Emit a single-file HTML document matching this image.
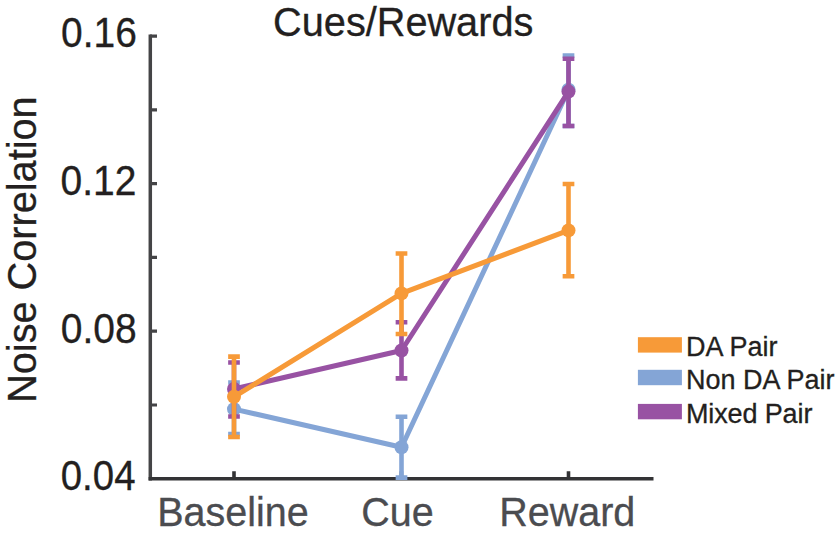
<!DOCTYPE html>
<html>
<head>
<meta charset="utf-8">
<style>
html,body{margin:0;padding:0;background:#fff;}
body{width:839px;height:533px;overflow:hidden;}
svg{display:block;}
text{font-family:"Liberation Sans", sans-serif;stroke-width:0.3px;}
</style>
</head>
<body>
<svg width="839" height="533" viewBox="0 0 839 533">
<!-- title -->
<text transform="translate(403.2,35.6) scale(1,1.01)" font-size="39.7" fill="#231f20" stroke="#231f20" text-anchor="middle">Cues/Rewards</text>
<!-- y label -->
<text transform="translate(35.5,249.6) rotate(-90) scale(1,1.01)" font-size="39.7" fill="#231f20" stroke="#231f20" text-anchor="middle">Noise Correlation</text>
<!-- y tick labels -->
<g font-size="39.6" fill="#231f20" stroke="#231f20" text-anchor="end">
<text transform="translate(136.8,46.9) scale(0.984,1.055)">0.16</text>
<text transform="translate(136.5,194.7) scale(0.985,1.055)">0.12</text>
<text transform="translate(136.6,342.5) scale(0.985,1.055)">0.08</text>
<text transform="translate(135.5,490.3) scale(0.97,1.055)">0.04</text>
</g>
<!-- x tick labels -->
<g font-size="39.5" fill="#4b4c50" stroke="#4b4c50" text-anchor="middle">
<text transform="translate(233.0,526.3) scale(1,1.02)">Baseline</text>
<text transform="translate(397.4,526.3) scale(1,1.02)">Cue</text>
<text transform="translate(567.3,526.3) scale(1,1.02)">Reward</text>
</g>
<!-- axes -->
<g fill="none">
<path d="M150.3 34.6 V480.6" stroke="#444446" stroke-width="3.5"/>
<path d="M148.6 478.8 H653.5" stroke="#333335" stroke-width="3.5"/>
<path d="M150 36.2 H157 M150 109.8 H157 M150 183.6 H157 M150 257.4 H157 M150 331.2 H157 M150 405 H157" stroke="#444446" stroke-width="3.2"/>
<path d="M234 479 V471.3 M401.4 479 V471.3 M568.5 479 V471.3" stroke="#333335" stroke-width="3.6"/>
</g>
<!-- legend -->
<rect x="637.9" y="337.2" width="44" height="15.4" fill="#f79a38"/>
<rect x="637.9" y="369.8" width="44" height="15.4" fill="#84a5d6"/>
<rect x="637.9" y="403.9" width="44" height="15.4" fill="#9852a3"/>
<g font-size="27" fill="#231f20" stroke="#231f20">
<text transform="translate(686,356.3)">DA Pair</text>
<text transform="translate(686,389.3)">Non DA Pair</text>
<text transform="translate(686,422.9)" letter-spacing="-0.13">Mixed Pair</text>
</g>
<g stroke="#84a5d6" fill="#84a5d6">
<polyline points="234,409.1 401.5,447.3 568.5,89.8" fill="none" stroke-width="5.0" stroke-linejoin="round"/>
<path d="M234 382.5 V434 M401.5 416.7 V477.6 M568.5 55.6 V126" stroke-width="4.6"/>
<path d="M228.15 382.5 H239.85 M228.15 434 H239.85 M395.65 416.7 H407.35 M395.65 477.6 H407.35 M562.65 55.6 H574.35 M562.65 126 H574.35" stroke-width="4.6"/>
<circle cx="234" cy="409.1" r="7.0" stroke="none"/>
<circle cx="401.5" cy="447.3" r="7.0" stroke="none"/>
<circle cx="568.5" cy="89.8" r="7.0" stroke="none"/>
</g>
<g stroke="#9852a3" fill="#9852a3">
<polyline points="234,388.9 401.5,350.5 568.5,91.6" fill="none" stroke-width="5.0" stroke-linejoin="round"/>
<path d="M234 362.5 V416.5 M401.5 322.3 V378.4 M568.5 58.8 V126" stroke-width="4.6"/>
<path d="M228.15 362.5 H239.85 M228.15 416.5 H239.85 M395.65 322.3 H407.35 M395.65 378.4 H407.35 M562.65 58.8 H574.35 M562.65 126 H574.35" stroke-width="4.6"/>
<circle cx="234" cy="388.9" r="7.0" stroke="none"/>
<circle cx="401.5" cy="350.5" r="7.0" stroke="none"/>
<circle cx="568.5" cy="91.6" r="7.0" stroke="none"/>
</g>
<g stroke="#f79a38" fill="#f79a38">
<polyline points="234,396.8 401.5,293.4 568.5,230.4" fill="none" stroke-width="5.0" stroke-linejoin="round"/>
<path d="M234 356.6 V437 M401.5 253.5 V334 M568.5 184 V276.3" stroke-width="4.6"/>
<path d="M228.15 356.6 H239.85 M228.15 437 H239.85 M395.65 253.5 H407.35 M395.65 334 H407.35 M562.65 184 H574.35 M562.65 276.3 H574.35" stroke-width="4.6"/>
<circle cx="234" cy="396.8" r="7.0" stroke="none"/>
<circle cx="401.5" cy="293.4" r="7.0" stroke="none"/>
<circle cx="568.5" cy="230.4" r="7.0" stroke="none"/>
</g>
</svg>
</body>
</html>
